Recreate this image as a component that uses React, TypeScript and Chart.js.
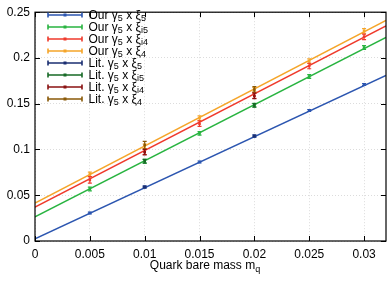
import { useEffect, useRef } from "react";
import { Chart, registerables } from "chart.js";

Chart.register(...registerables);

const FONT = '"Liberation Sans", Arial, Helvetica, sans-serif';

// x positions
const xOur = [0.005, 0.01, 0.015, 0.02, 0.025, 0.03];
const xLit = [0.01, 0.02];
const xFit = [0, 0.032];

// "Our" data
const ourXi5 = [0.0306, 0.059, 0.0864, 0.1146, 0.1425, 0.1709];
const ourXi5Err = [0.001, 0.001, 0.001, 0.001, 0.001, 0.001];
const ourXiI5 = [0.0568, 0.0871, 0.1176, 0.1484, 0.1798, 0.2114];
const ourXiI5Err = [0.002, 0.002, 0.002, 0.002, 0.002, 0.002];
const ourXiI4 = [0.0668, 0.0975, 0.1282, 0.1588, 0.1912, 0.2231];
const ourXiI4Err = [0.0035, 0.003, 0.003, 0.003, 0.003, 0.003];
const ourXi4 = [0.0728, 0.1035, 0.1343, 0.165, 0.1965, 0.2295];
const ourXi4Err = [0.0025, 0.0025, 0.0025, 0.0025, 0.0025, 0.0025];

// Literature data
const litXi5 = [0.059, 0.1148];
const litXi5Err = [0.001, 0.001];
const litXiI5 = [0.0871, 0.1482];
const litXiI5Err = [0.002, 0.002];
const litXiI4 = [0.097, 0.1585];
const litXiI4Err = [0.003, 0.003];
const litXi4 = [0.1048, 0.1656];
const litXi4Err = [0.004, 0.003];

// fit lines (values at x = 0 and x = 0.032)
const fitXi5 = [0.0025, 0.181];
const fitXiI5 = [0.0263, 0.2225];
const fitXiI4 = [0.037, 0.2349];
const fitXi4 = [0.0413, 0.241];

const xTicks = [0, 0.005, 0.01, 0.015, 0.02, 0.025, 0.03];
const xTickLabels = ["0", "0.005", "0.01", "0.015", "0.02", "0.025", "0.03"];
const yTicks = [0, 0.05, 0.1, 0.15, 0.2, 0.25];
const yTickLabels = ["0", "0.05", "0.1", "0.15", "0.2", "0.25"];

const COL_BLUE = "#2c56b0";
const COL_GREEN = "#28b440";
const COL_RED = "#ef3a2c";
const COL_ORANGE = "#f5a52a";
const COL_DBLUE = "#1b2f72";
const COL_DGREEN = "#176a26";
const COL_DRED = "#8a1212";
const COL_BROWN = "#8a5a08";

// legend entries: [prefix, sub1, middle, sub2]
const legendParts: string[][] = [
  ["Our \u03b3", "5", " x \u03be", "5"],
  ["Our \u03b3", "5", " x \u03be", "i5"],
  ["Our \u03b3", "5", " x \u03be", "i4"],
  ["Our \u03b3", "5", " x \u03be", "4"],
  ["Lit. \u03b3", "5", " x \u03be", "5"],
  ["Lit. \u03b3", "5", " x \u03be", "i5"],
  ["Lit. \u03b3", "5", " x \u03be", "i4"],
  ["Lit. \u03b3", "5", " x \u03be", "4"],
];
const legendColors = [COL_BLUE, COL_GREEN, COL_RED, COL_ORANGE, COL_DBLUE, COL_DGREEN, COL_DRED, COL_BROWN];

const pts = (xs: number[], ys: number[]) => xs.map((x, i) => ({ x, y: ys[i] }));

export default function App() {
  const ref = useRef<HTMLCanvasElement>(null);
  useEffect(() => {
    document.body.style.margin = "0";
    const canvas = ref.current!;

    const pointDs = (label: string, xs: number[], ys: number[], errs: number[], color: string) => ({
      label,
      data: pts(xs, ys),
      errors: errs,
      showLine: false,
      borderColor: color,
      backgroundColor: color,
      pointStyle: "rect",
      pointRadius: 1.8,
      pointBorderWidth: 0,
    });
    const lineDs = (label: string, ys: number[], color: string) => ({
      label,
      data: pts(xFit, ys),
      showLine: true,
      borderColor: color,
      backgroundColor: color,
      borderWidth: 1.5,
      pointRadius: 0,
    });

    const errorPlugin = {
      id: "errbars",
      afterDatasetDraw(chart: any, args: any) {
        const ds = chart.data.datasets[args.index];
        if (!ds.errors) return;
        const c = chart.ctx;
        const xs = chart.scales.x;
        const ys = chart.scales.y;
        c.save();
        c.strokeStyle = ds.borderColor;
        c.lineWidth = 1.2;
        ds.data.forEach((p: any, i: number) => {
          const e = ds.errors[i];
          const px = xs.getPixelForValue(p.x);
          const y1 = ys.getPixelForValue(p.y - e);
          const y2 = ys.getPixelForValue(p.y + e);
          c.beginPath();
          c.moveTo(px, y1);
          c.lineTo(px, y2);
          c.moveTo(px - 2, y1);
          c.lineTo(px + 2, y1);
          c.moveTo(px - 2, y2);
          c.lineTo(px + 2, y2);
          c.stroke();
        });
        c.restore();
      },
    };

    const framePlugin = {
      id: "frame",
      afterDraw(chart: any) {
        const c = chart.ctx;
        const a = chart.chartArea;
        const xs = chart.scales.x;
        const ys = chart.scales.y;
        c.save();
        c.strokeStyle = "#000";
        c.lineWidth = 1.2;
        c.strokeRect(a.left, a.top, a.right - a.left, a.bottom - a.top);
        c.lineWidth = 1;
        c.beginPath();
        xTicks.forEach((v) => {
          const px = Math.round(xs.getPixelForValue(v)) + 0.5;
          c.moveTo(px, a.bottom);
          c.lineTo(px, a.bottom - 5);
          c.moveTo(px, a.top);
          c.lineTo(px, a.top + 5);
        });
        yTicks.forEach((v) => {
          const py = Math.round(ys.getPixelForValue(v)) + 0.5;
          c.moveTo(a.left, py);
          c.lineTo(a.left + 5, py);
          c.moveTo(a.right, py);
          c.lineTo(a.right - 5, py);
        });
        c.stroke();

        // legend
        const fs = 12;
        const sfs = 9;
        c.textBaseline = "alphabetic";
        legendParts.forEach((parts, i) => {
          const cy = 15 + i * 12;
          const col = legendColors[i];
          c.strokeStyle = col;
          c.fillStyle = col;
          c.lineWidth = 1.6;
          c.beginPath();
          c.moveTo(48, cy);
          c.lineTo(82, cy);
          c.moveTo(48, cy - 2.5);
          c.lineTo(48, cy + 2.5);
          c.moveTo(82, cy - 2.5);
          c.lineTo(82, cy + 2.5);
          c.stroke();
          c.fillRect(63.5, cy - 1.5, 3, 3);
          c.fillStyle = "#000";
          let x = 88.5;
          const base = cy + 3.5;
          c.font = `${fs}px ${FONT}`;
          c.fillText(parts[0], x, base);
          x += c.measureText(parts[0]).width;
          c.font = `${sfs}px ${FONT}`;
          c.fillText(parts[1], x, base + 2.5);
          x += c.measureText(parts[1]).width;
          c.font = `${fs}px ${FONT}`;
          c.fillText(parts[2], x, base);
          x += c.measureText(parts[2]).width;
          c.font = `${sfs}px ${FONT}`;
          c.fillText(parts[3], x, base + 2.5);
        });

        // x-axis title with subscript
        c.fillStyle = "#000";
        c.font = `${fs}px ${FONT}`;
        const main = "Quark bare mass m";
        const wMain = c.measureText(main).width;
        c.font = `${sfs}px ${FONT}`;
        const wSub = c.measureText("q").width;
        const total = wMain + wSub;
        const sx = 205 - total / 2;
        c.font = `${fs}px ${FONT}`;
        c.fillText(main, sx, 269);
        c.font = `${sfs}px ${FONT}`;
        c.fillText("q", sx + wMain, 272);
        c.restore();
      },
    };

    const chart = new Chart(canvas, {
      type: "scatter",
      data: {
        datasets: [
          pointDs("Lit. ξ5", xLit, litXi5, litXi5Err, COL_DBLUE),
          pointDs("Lit. ξi5", xLit, litXiI5, litXiI5Err, COL_DGREEN),
          pointDs("Lit. ξi4", xLit, litXiI4, litXiI4Err, COL_DRED),
          pointDs("Lit. ξ4", xLit, litXi4, litXi4Err, COL_BROWN),
          pointDs("Our ξ5", xOur, ourXi5, ourXi5Err, COL_BLUE),
          pointDs("Our ξi5", xOur, ourXiI5, ourXiI5Err, COL_GREEN),
          pointDs("Our ξi4", xOur, ourXiI4, ourXiI4Err, COL_RED),
          pointDs("Our ξ4", xOur, ourXi4, ourXi4Err, COL_ORANGE),
          lineDs("fit ξ5", fitXi5, COL_BLUE),
          lineDs("fit ξi5", fitXiI5, COL_GREEN),
          lineDs("fit ξi4", fitXiI4, COL_RED),
          lineDs("fit ξ4", fitXi4, COL_ORANGE),
        ] as any,
      },
      options: {
        animation: false,
        responsive: false,
        devicePixelRatio: 1,
        layout: { padding: { left: 0, right: 1.5, top: 6, bottom: 0 } },
        plugins: {
          legend: { display: false },
          tooltip: { enabled: false },
        },
        scales: {
          x: {
            type: "linear",
            min: 0,
            max: 0.032,
            afterBuildTicks: (s: any) => {
              s.ticks = xTicks.map((v) => ({ value: v }));
            },
            afterFit: (s: any) => {
              s.height = 40;
            },
            grid: { color: "#dcdcdc", drawTicks: false, lineWidth: 1 },
            border: { display: false, dash: [1, 2] },
            ticks: {
              padding: 6,
              color: "#000",
              font: { family: FONT, size: 12 },
              maxRotation: 0,
              autoSkip: false,
              callback: (v: any) => {
                const i = xTicks.findIndex((t) => Math.abs(t - v) < 1e-9);
                return i >= 0 ? xTickLabels[i] : "";
              },
            },
          },
          y: {
            type: "linear",
            min: 0,
            max: 0.25,
            afterBuildTicks: (s: any) => {
              s.ticks = yTicks.map((v) => ({ value: v }));
            },
            afterFit: (s: any) => {
              s.width = 35;
            },
            grid: { color: "#dcdcdc", drawTicks: false, lineWidth: 1 },
            border: { display: false, dash: [1, 2] },
            ticks: {
              padding: 5,
              color: "#000",
              font: { family: FONT, size: 12 },
              autoSkip: false,
              callback: (v: any) => {
                const i = yTicks.findIndex((t) => Math.abs(t - v) < 1e-9);
                return i >= 0 ? yTickLabels[i] : "";
              },
            },
          },
        },
      } as any,
      plugins: [errorPlugin, framePlugin],
    });
    return () => chart.destroy();
  }, []);
  return (
    <div style={{ width: 390, height: 281 }}>
      <canvas ref={ref} width={390} height={281} style={{ width: 390, height: 281, display: "block" }} />
    </div>
  );
}
